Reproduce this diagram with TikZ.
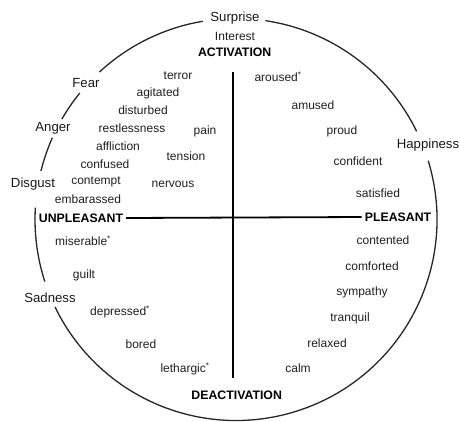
\documentclass[tikz,border=0pt]{standalone}
\usepackage{fontspec}
\setmainfont{Liberation Sans}
\begin{document}
\begin{tikzpicture}[x=1pt,y=1pt,
  word/.style={font=\fontsize{12}{13}\selectfont, text=black!88, inner sep=0pt},
  emo/.style={font=\fontsize{13.2}{14}\selectfont, text=black!90, inner sep=0pt},
  axis/.style={font=\fontsize{12.3}{13}\selectfont\bfseries, text=black, inner sep=0pt},
  rim/.style={line width=1.3pt, black!85},
  axline/.style={line width=1.8pt, black}]
\useasboundingbox (0,0) rectangle (460,-421);
\coordinate (c) at (236,-219.5);
% circle arcs (gaps at labels)
\draw[rim] ([shift={(c)}]81.6:201) arc[start angle=81.6, end angle=26, radius=201];
\draw[rim] ([shift={(c)}]17:201) arc[start angle=17, end angle=-154.2, radius=201];
\draw[rim] ([shift={(c)}]198:201) arc[start angle=198, end angle=176.6, radius=201];
\draw[rim] ([shift={(c)}]166:201) arc[start angle=166, end angle=156, radius=201];
\draw[rim] ([shift={(c)}]150:201) arc[start angle=150, end angle=141, radius=201];
\draw[rim] ([shift={(c)}]132.8:201) arc[start angle=132.8, end angle=99.5, radius=201];
% emotion labels on the rim
\node[emo] (surprise) at (235,-18) {Surprise};
\node[emo] (fear) at (86,-83) {Fear};
\node[emo] (anger) at (53,-128) {Anger};
\node[emo] (disgust) at (33,-184) {Disgust};
\node[emo] (sadness) at (50,-298) {Sadness};
\node[emo] (happiness) at (428,-145) {Happiness};
% axis labels
\node[word] (interest) at (235,-36) {Interest};
\node[axis] (act) at (234.7,-52) {ACTIVATION};
\node[axis] (deact) at (236.7,-395) {DEACTIVATION};
\node[axis] (unp) at (81,-218) {UNPLEASANT};
\node[axis] (pl) at (398,-217) {PLEASANT};
\coordinate (vtop) at (233,-72);
\coordinate (vbot) at (233,-378);
\draw[axline] (vtop) -- (vbot);
\draw[axline] ([xshift=3pt]unp.east) -- ([xshift=-3pt]pl.west);
% upper left
\node[word] (terror) at (178,-76) {terror};
\node[word] (agitated) at (158,-93) {agitated};
\node[word] (disturbed) at (143,-110) {disturbed};
\node[word] (restless) at (132,-128) {restlessness};
\node[word] (pain) at (205,-131) {pain};
\node[word] (affliction) at (118,-146) {affliction};
\node[word] (tension) at (186,-156) {tension};
\node[word] (confused) at (105,-164) {confused};
\node[word] (contempt) at (96,-182) {contempt};
\node[word] (nervous) at (173,-184) {nervous};
\node[word] (embar) at (88,-199) {embarassed};
% upper right
\node[word] (aroused) at (278,-77) {aroused\textsuperscript{*}};
\node[word] (amused) at (313,-105) {amused};
\node[word] (proud) at (342,-131) {proud};
\node[word] (confident) at (358,-161) {confident};
\node[word] (satisfied) at (378,-193) {satisfied};
% lower left
\node[word] (miserable) at (83,-241) {miserable\textsuperscript{*}};
\node[word] (guilt) at (84,-275) {guilt};
\node[word] (depressed) at (120,-312) {depressed\textsuperscript{*}};
\node[word] (bored) at (141,-344) {bored};
\node[word] (lethargic) at (185,-369) {lethargic\textsuperscript{*}};
% lower right
\node[word] (contented) at (383,-240) {contented};
\node[word] (comforted) at (372,-266) {comforted};
\node[word] (sympathy) at (362,-292) {sympathy};
\node[word] (tranquil) at (350,-318) {tranquil};
\node[word] (relaxed) at (327,-343) {relaxed};
\node[word] (calm) at (298,-368) {calm};
\end{tikzpicture}
\end{document}
